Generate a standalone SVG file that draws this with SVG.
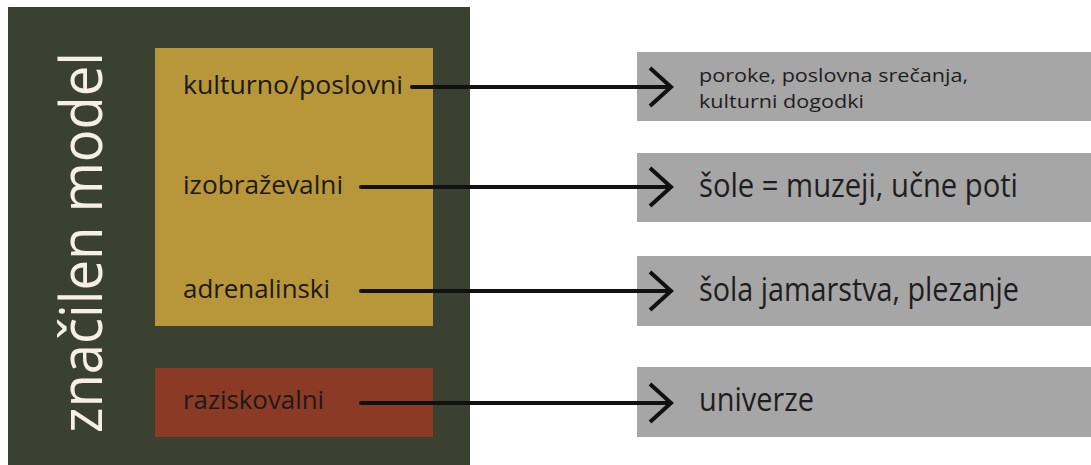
<svg xmlns="http://www.w3.org/2000/svg" width="1091" height="465" viewBox="0 0 1091 465">
  <style>
    .lbl { font-family: "Open Sans", "Noto Sans", "Liberation Sans", sans-serif; fill: #1c1a16; }
    .out { font-family: "Open Sans", "Noto Sans", "Liberation Sans", sans-serif; fill: #1e1e1e; }
    .title { font-family: "Open Sans", "Noto Sans", "Liberation Sans", sans-serif; fill: #f6efe4; font-size: 58px; }
    .card { fill: #a6a6a6; }
    .link { stroke: #111; stroke-width: 4; fill: none; stroke-linecap: round; }
    .head { stroke: #111; stroke-width: 4; fill: none; stroke-linecap: butt; stroke-linejoin: miter; }
  </style>

  <rect width="1091" height="465" fill="#ffffff"/>

  <!-- outer panel with rotated title -->
  <g id="panel">
    <rect x="8" y="7" width="462" height="458" fill="#3b4130"/>
    <text class="title" transform="translate(102,433) rotate(-90)" textLength="381" lengthAdjust="spacingAndGlyphs">značilen model</text>
  </g>

  <!-- model groups -->
  <g id="group-main">
    <rect x="155" y="48" width="278" height="278" fill="#b8963a"/>
  </g>
  <g id="group-research">
    <rect x="155" y="368" width="278" height="69" fill="#8b3a26"/>
  </g>

  <g id="node-kulturno">
    <text class="lbl" x="183" y="94" font-size="26" textLength="220" lengthAdjust="spacingAndGlyphs">kulturno/poslovni</text>
  </g>
  <g id="node-izobrazevalni">
    <text class="lbl" x="183" y="194" font-size="26" textLength="160" lengthAdjust="spacingAndGlyphs">izobraževalni</text>
  </g>
  <g id="node-adrenalinski">
    <text class="lbl" x="183" y="298" font-size="26" textLength="147" lengthAdjust="spacingAndGlyphs">adrenalinski</text>
  </g>
  <g id="node-raziskovalni">
    <text class="lbl" x="183" y="409" font-size="26" textLength="141" lengthAdjust="spacingAndGlyphs">raziskovalni</text>
  </g>

  <!-- target cards -->
  <g id="card-events">
    <rect class="card" x="637" y="52" width="454" height="69"/>
    <text class="out" x="699" y="82" font-size="19" textLength="269" lengthAdjust="spacingAndGlyphs">poroke, poslovna srečanja,</text>
    <text class="out" x="699" y="108" font-size="19" textLength="165" lengthAdjust="spacingAndGlyphs">kulturni dogodki</text>
  </g>
  <g id="card-schools">
    <rect class="card" x="637" y="153" width="454" height="69"/>
    <text class="out" x="699" y="197" font-size="33" textLength="319" lengthAdjust="spacingAndGlyphs">šole = muzeji, učne poti</text>
  </g>
  <g id="card-caving">
    <rect class="card" x="637" y="256" width="454" height="70"/>
    <text class="out" x="699" y="301" font-size="33" textLength="320" lengthAdjust="spacingAndGlyphs">šola jamarstva, plezanje</text>
  </g>
  <g id="card-universities">
    <rect class="card" x="637" y="367" width="454" height="70"/>
    <text class="out" x="699" y="411" font-size="33" textLength="115" lengthAdjust="spacingAndGlyphs">univerze</text>
  </g>

  <!-- connectors -->
  <g id="connectors">
    <path class="link" d="M412 87 H670"/>
    <path class="head" d="M650 68 L671 87 L650 106"/>
    <path class="link" d="M361 187 H670"/>
    <path class="head" d="M650 168 L671 187 L650 206"/>
    <path class="link" d="M361 291 H670"/>
    <path class="head" d="M650 272 L671 291 L650 310"/>
    <path class="link" d="M361 403 H670"/>
    <path class="head" d="M650 384 L671 403 L650 422"/>
  </g>
</svg>
